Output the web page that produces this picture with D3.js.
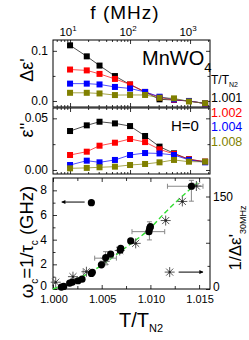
<!DOCTYPE html>
<html><head><meta charset="utf-8">
<script src="https://cdn.jsdelivr.net/npm/d3@7"></script>
<style>body{margin:0;background:#fff} text{font-family:"Liberation Sans",Arial,sans-serif}</style>
</head><body>
<script>
// frequencies (MHz) and temperature labels
var freq = [10, 19, 31, 56, 100, 178, 310, 540, 960, 1780];
var tempLabels = ["1.001", "1.002", "1.004", "1.008"];
var seriesColors = ["#000000", "#ff0000", "#0000ff", "#808000"];

// delta eps' per T/TN2
var dEps1001 = [0.111, 0.089, 0.0706, 0.0497, 0.0327, 0.018, 0.0033, 0.002, 0.000, -0.005];
var dEps1002 = [0.0627, 0.061, 0.054, 0.044, 0.033, 0.018, 0.0072, 0.002, 0.000, -0.005];
var dEps1004 = [0.0346, 0.0346, 0.033, 0.028, 0.025, 0.018, 0.0085, 0.003, 0.000, -0.005];
var dEps1008 = [0.0163, 0.0163, 0.015, 0.0118, 0.012, 0.012, 0.0065, 0.0052, -0.001, -0.0045];

// eps'' per T/TN2
var eps2_1001 = [0.0377, 0.0432, 0.0467, 0.0451, 0.0425, 0.0329, 0.0226, 0.0161, 0.0103, 0.0080];
var eps2_1002 = [0.0145, 0.0177, 0.0235, 0.0264, 0.0300, 0.0270, 0.0200, 0.0155, 0.0103, 0.0080];
var eps2_1004 = [0.0048, 0.0090, 0.0074, 0.0097, 0.0145, 0.0164, 0.0160, 0.0145, 0.0097, 0.0074];
var eps2_1008 = [0.0016, 0.0020, 0.0026, 0.0032, 0.0048, 0.0058, 0.0074, 0.0097, 0.0080, 0.0080];

// bottom panel: omega_c (circles) and 1/deps'_30MHz (stars)
var circT = [1.00086, 1.0011, 1.00171, 1.00199, 1.00257, 1.00298, 1.00394, 1.00404, 1.00497, 1.00541, 1.00592, 1.0069, 1.00695, 1.00798, 1.00985, 1.00993, 1.0100, 1.01421];
var circW = [0.16, 0.21, 0.48, 0.56, 0.67, 0.80, 1.26, 1.35, 1.96, 2.55, 2.82, 3.15, 3.30, 3.90, 4.65, 4.92, 5.05, 8.33];
var starT = [1.00028, 1.00205, 1.00343, 1.00531, 1.00685, 1.00849, 1.01157, 1.01328, 1.01472];
var starInv = [11, 20, 28, 45, 62.5, 74, 111, 142, 167];

// error bars
var errT = [1.01421, 1.0099, 1.0054, 1.0035];
var errW = [8.33, 4.65, 2.5, 1.4];
var errTlo = [1.01175, 1.00811, 1.00428, 1.0031];
var errThi = [1.0154, 1.01147, 1.00651, 1.0040];
var errWlo = [7.12, 3.98, 1.96, 1.4];
var errWhi = [8.81, 5.45, 3.03, 1.4];

// dashed guide
var fitT = [1.0, 1.0048, 1.0076, 1.0099, 1.0115, 1.0135, 1.0149];
var fitW = [0, 1.82, 3.44, 4.86, 6.19, 7.69, 8.65];

var dEpsSeries = [dEps1001, dEps1002, dEps1004, dEps1008];
var eps2Series = [eps2_1001, eps2_1002, eps2_1004, eps2_1008];

var W = 249, H = 340;
var svg = d3.select("body").append("svg").attr("width", W).attr("height", H);

var x0 = 53, x1 = 210;
var xf = d3.scaleLog().domain([5.2, 2150]).range([x0, x1]);
var y1 = d3.scaleLinear().domain([-0.012, 0.1216]).range([107, 40]);
var y2 = d3.scaleLinear().domain([-0.0039, 0.060]).range([174, 108]);
var xt = d3.scaleLinear().domain([1.0, 1.01612]).range([x0, x1]);
var yw = d3.scaleLinear().domain([0, 9]).range([289, 178]);
var yr = d3.scaleLinear().domain([0, 180]).range([289, 178]);

function ticks(axisGen, scale, vals, size, tx, ty) {
  var g = svg.append("g").attr("transform", "translate(" + tx + "," + ty + ")")
    .call(axisGen(scale).tickValues(vals).tickSizeInner(-size).tickSizeOuter(0).tickFormat(""));
  g.select(".domain").remove();
  g.selectAll("line").attr("stroke", "#000").attr("stroke-width", 0.8);
  return g;
}

var logMajor = [10, 100, 1000];
var logMinor = [];
[1, 10, 100, 1000].forEach(function (d) {
  for (var m = 2; m <= 9; m++) {
    var v = d * m;
    if (v > 5.2 && v < 2150) logMinor.push(v);
  }
});

// frames
function frame(ya, yb) {
  svg.append("rect").attr("x", x0).attr("y", ya).attr("width", x1 - x0).attr("height", yb - ya)
    .attr("fill", "none").attr("stroke", "#000").attr("stroke-width", 1);
}
frame(40, 107);
frame(108, 174);
frame(178, 289);

// log ticks for top two panels
[[40, 107], [108, 174]].forEach(function (p) {
  ticks(d3.axisTop, xf, logMajor, 4, 0, p[0]);
  ticks(d3.axisTop, xf, logMinor, 2, 0, p[0]);
  ticks(d3.axisBottom, xf, logMajor, 4, 0, p[1]);
  ticks(d3.axisBottom, xf, logMinor, 2, 0, p[1]);
});
ticks(d3.axisLeft, y1, [0, 0.1], 4, x0, 0);
ticks(d3.axisLeft, y1, [0.05], 2.5, x0, 0);
ticks(d3.axisRight, y1, [0, 0.1], 4, x1, 0);
ticks(d3.axisRight, y1, [0.05], 2.5, x1, 0);
ticks(d3.axisLeft, y2, [0, 0.05], 4, x0, 0);
ticks(d3.axisLeft, y2, [0.025], 2.5, x0, 0);
ticks(d3.axisRight, y2, [0, 0.05], 4, x1, 0);
ticks(d3.axisRight, y2, [0.025], 2.5, x1, 0);

// bottom panel ticks
ticks(d3.axisTop, xt, [1.0, 1.005, 1.01, 1.015], 4, 0, 178);
ticks(d3.axisTop, xt, [1.0025, 1.0075, 1.0125], 3, 0, 178);
ticks(d3.axisBottom, xt, [1.0, 1.005, 1.01, 1.015], 4, 0, 289);
ticks(d3.axisBottom, xt, [1.0025, 1.0075, 1.0125], 3, 0, 289);
ticks(d3.axisLeft, yw, [0, 2, 4, 6, 8], 4, x0, 0);
ticks(d3.axisLeft, yw, [1, 3, 5, 7], 2.5, x0, 0);
ticks(d3.axisRight, yr, [0, 75, 150], 4, x1, 0);
ticks(d3.axisRight, yr, [37.5, 112.5], 2.5, x1, 0);

// tick labels
var lab = svg.append("g").attr("font-size", 12).attr("fill", "#000");
logMajor.forEach(function (v, i) {
  var t = lab.append("text").attr("x", xf(v) - 2).attr("y", 36).attr("text-anchor", "middle").attr("font-size", 11.5);
  t.append("tspan").text("10");
  t.append("tspan").attr("dy", -5).attr("font-size", 8).text(i + 1);
});
[[y1, 0.1, "0.1"], [y1, 0, "0.0"], [y2, 0.05, "0.05"], [y2, 0, "0.00"]].forEach(function (d) {
  lab.append("text").attr("x", x0 - 5).attr("y", d[0](d[1]) + 4).attr("text-anchor", "end").text(d[2]);
});
[0, 2, 4, 6, 8].forEach(function (v) {
  lab.append("text").attr("x", x0 - 6).attr("y", yw(v) + (v === 0 ? 1 : 4)).attr("text-anchor", "end").text(v);
});
[1.0, 1.005, 1.01, 1.015].forEach(function (v) {
  lab.append("text").attr("x", xt(v) + 1).attr("y", 303).attr("text-anchor", "middle").attr("font-size", 11)
    .text(d3.format(".3f")(v));
});
[[150, "150"], [0, "0"]].forEach(function (d) {
  lab.append("text").attr("x", x1 + 3).attr("y", yr(d[0]) + (d[0] === 0 ? 2 : 4)).attr("text-anchor", "start").text(d[1]);
});

// axis titles
svg.append("text").attr("x", 125).attr("y", 19).attr("text-anchor", "middle").attr("font-size", 19)
  .attr("letter-spacing", 1).text("f (MHz)");
var bt = svg.append("text").attr("x", 141).attr("y", 327).attr("text-anchor", "middle").attr("font-size", 20);
bt.append("tspan").text("T/T");
bt.append("tspan").attr("dy", 5).attr("font-size", 11).text("N2");

svg.append("text").attr("transform", "translate(33,70) rotate(-90)").attr("text-anchor", "middle").attr("font-size", 18).text("\u0394\u03b5'");
svg.append("text").attr("transform", "translate(33,130) rotate(-90)").attr("text-anchor", "middle").attr("font-size", 18).text("\u03b5''");
var t3 = svg.append("text").attr("transform", "translate(33,242) rotate(-90)").attr("text-anchor", "middle").attr("font-size", 18.5);
t3.append("tspan").text("\u03c9");
t3.append("tspan").attr("dy", 5).attr("font-size", 10).text("c");
t3.append("tspan").attr("dy", -5).text("=1/\u03c4");
t3.append("tspan").attr("dy", 5).attr("font-size", 10).text("c");
t3.append("tspan").attr("dy", -5).text(" (GHz)");
var t4 = svg.append("text").attr("transform", "translate(241,238) rotate(-90)").attr("text-anchor", "middle").attr("font-size", 17);
t4.append("tspan").text("1/\u0394\u03b5'");
t4.append("tspan").attr("dy", 5).attr("font-size", 9).text("30MHz");

// panel annotations
var mn = svg.append("text").attr("x", 142).attr("y", 65).attr("font-size", 20);
mn.append("tspan").text("MnWO");
mn.append("tspan").attr("dy", 7).attr("font-size", 13).text("4");
svg.append("text").attr("x", 171).attr("y", 131).attr("font-size", 15).text("H=0");
var tt = svg.append("text").attr("x", 211).attr("y", 84).attr("font-size", 12);
tt.append("tspan").text("T/T");
tt.append("tspan").attr("dy", 3).attr("font-size", 7).text("N2");
tempLabels.forEach(function (s, i) {
  svg.append("text").attr("x", 211).attr("y", 102 + i * 14.7).attr("font-size", 12.5)
    .attr("fill", seriesColors[i]).text(s);
});

// series in top panels
function drawSeries(ys, seriesList) {
  seriesList.forEach(function (vals, i) {
    var pts = freq.map(function (f, j) { return [xf(f), ys(vals[j])]; });
    svg.append("path").attr("d", d3.line()(pts)).attr("fill", "none")
      .attr("stroke", seriesColors[i]).attr("stroke-width", 0.7);
  });
  seriesList.forEach(function (vals, i) {
    svg.append("g").selectAll("rect").data(vals).enter().append("rect")
      .attr("x", function (d, j) { return xf(freq[j]) - 3; })
      .attr("y", function (d) { return ys(d) - 3; })
      .attr("width", 6).attr("height", 6)
      .attr("fill", seriesColors[i]);
  });
}
drawSeries(y1, dEpsSeries);
drawSeries(y2, eps2Series);

// bottom panel
var bp = svg.append("g");
var fitPts = fitT.map(function (t, i) { return [xt(t), yw(fitW[i])]; });
bp.append("path").attr("d", d3.line().curve(d3.curveMonotoneX)(fitPts)).attr("fill", "none")
  .attr("stroke", "#33dd33").attr("stroke-width", 1.4).attr("stroke-dasharray", "5,3");

errT.forEach(function (t, i) {
  var g = bp.append("g").attr("stroke", "#888").attr("stroke-width", 1);
  var yy = yw(errW[i]);
  g.append("line").attr("x1", xt(errTlo[i])).attr("x2", xt(errThi[i])).attr("y1", yy).attr("y2", yy);
  g.append("line").attr("x1", xt(errTlo[i])).attr("x2", xt(errTlo[i])).attr("y1", yy - 2.5).attr("y2", yy + 2.5);
  g.append("line").attr("x1", xt(errThi[i])).attr("x2", xt(errThi[i])).attr("y1", yy - 2.5).attr("y2", yy + 2.5);
  if (errWhi[i] > errWlo[i]) {
    var xx = xt(t);
    g.append("line").attr("x1", xx).attr("x2", xx).attr("y1", yw(errWlo[i])).attr("y2", yw(errWhi[i]));
    g.append("line").attr("x1", xx - 2.5).attr("x2", xx + 2.5).attr("y1", yw(errWlo[i])).attr("y2", yw(errWlo[i]));
    g.append("line").attr("x1", xx - 2.5).attr("x2", xx + 2.5).attr("y1", yw(errWhi[i])).attr("y2", yw(errWhi[i]));
  }
});

function star(g, cx, cy) {
  var s = g.append("g").attr("stroke", "#555").attr("stroke-width", 1);
  [0, 45, 90, 135].forEach(function (a) {
    var r = 5, rad = a * Math.PI / 180;
    s.append("line").attr("x1", cx - r * Math.cos(rad)).attr("y1", cy - r * Math.sin(rad))
      .attr("x2", cx + r * Math.cos(rad)).attr("y2", cy + r * Math.sin(rad));
  });
  g.append("circle").attr("cx", cx).attr("cy", cy).attr("r", 1.2).attr("fill", "#222");
}
starT.forEach(function (t, i) { star(bp, xt(t), yr(starInv[i])); });

bp.selectAll("circle.c").data(circT).enter().append("circle").attr("class", "c")
  .attr("cx", function (d) { return xt(d); })
  .attr("cy", function (d, i) { return yw(circW[i]); })
  .attr("r", 3.6).attr("fill", "#000");

// legend markers with arrows
svg.append("defs").append("marker").attr("id", "ah").attr("viewBox", "0 0 10 10")
  .attr("refX", 9).attr("refY", 5).attr("markerWidth", 6).attr("markerHeight", 4).attr("orient", "auto")
  .append("path").attr("d", "M0,0L10,5L0,10z").attr("fill", "#000");
bp.append("circle").attr("cx", xt(1.00394)).attr("cy", yw(7.0)).attr("r", 3.6).attr("fill", "#000");
bp.append("line").attr("x1", xt(1.00325)).attr("y1", yw(7.05)).attr("x2", xt(1.0009)).attr("y2", yw(7.05))
  .attr("stroke", "#000").attr("stroke-width", 1).attr("marker-end", "url(#ah)");
star(bp, xt(1.01198), yw(1.37));
bp.append("line").attr("x1", xt(1.0129)).attr("y1", yw(1.37)).attr("x2", xt(1.0154)).attr("y2", yw(1.37))
  .attr("stroke", "#000").attr("stroke-width", 1).attr("marker-end", "url(#ah)");
</script>
</body></html>
